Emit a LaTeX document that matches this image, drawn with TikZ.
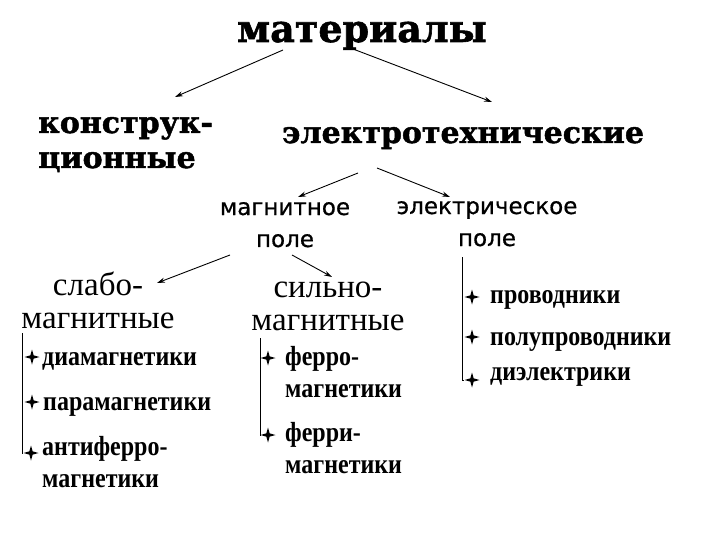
\documentclass[tikz,border=0pt]{standalone}
\usepackage{fontspec}
\usepackage{tikz}
\usetikzlibrary{arrows.meta,positioning,shapes.geometric}
\newfontfamily\slabfont{DejaVu Serif}[BoldFeatures={FakeBold=1.5}]
\newfontfamily\romanfont{Liberation Serif}
\newfontfamily\roundfont{DejaVu Sans}[FakeBold=0.6]
\definecolor{ink}{HTML}{000000}
\tikzset{
  head/.style={font=\slabfont\bfseries\fontsize{38}{40}\selectfont, inner sep=0pt, anchor=base},
  sub/.style={font=\slabfont\bfseries\fontsize{30}{35}\selectfont, inner sep=0pt, align=left, anchor=base west},
  fld/.style={font=\roundfont\fontsize{23}{32}\selectfont, inner sep=0pt, align=center, anchor=base},
  grp/.style={font=\romanfont\fontsize{33}{33}\selectfont, inner sep=0pt, align=center, anchor=base},
  item/.style={font=\romanfont\bfseries\fontsize{24}{27}\selectfont, yscale=1.15, inner sep=0pt, align=left, anchor=base west},
  bul/.style={star, star points=4, star point ratio=3.2, fill=ink, draw=none, minimum size=15pt, inner sep=0pt},
  ar/.style={-{Stealth[length=8pt,width=5pt]}, line width=.9pt, draw=ink},
  rail/.style={line width=.8pt, draw=ink},
}
\begin{document}
\begin{tikzpicture}[x=1pt,y=-1pt]
  \useasboundingbox (0,0) rectangle (720,540);
  % top levels
  \node[head] (mat) at (362,42) {материалы};
  \node[sub] (konstr) at (38,168) {конструк-\\ционные};
  \node[sub] (elek) at (282,143) {электротехнические};
  \node[fld] (magn) at (285,247) {магнитное\\поле};
  \node[fld] (elpole) at (487,246) {электрическое\\поле};
  \node[grp] (slabo) at (98,328) {слабо-\\магнитные};
  \node[grp] (silno) at (328,330) {сильно-\\магнитные};
  % arrow ends
  \coordinate (matL) at (283,50);   \coordinate (konT) at (175,97);
  \coordinate (matR) at (353,49);   \coordinate (elekT) at (492,102);
  \coordinate (elekL) at (358,173); \coordinate (magnT) at (298,197);
  \coordinate (elekR) at (377,168); \coordinate (elpT) at (450,197);
  \coordinate (magnL) at (230,255); \coordinate (slaboT) at (157,283);
  \coordinate (magnR) at (292,255); \coordinate (silnoT) at (332,277);
  \draw[ar] (matL) -- (konT);
  \draw[ar] (matR) -- (elekT);
  \draw[ar] (elekL) -- (magnT);
  \draw[ar] (elekR) -- (elpT);
  \draw[ar] (magnL) -- (slaboT);
  \draw[ar] (magnR) -- (silnoT);
  % weak magnetic
  \coordinate (railA) at (22,333);
  \node[bul] (bA1) at (32,357) {};
  \node[bul] (bA2) at (32,402) {};
  \node[bul] (bA3) at (31,453) {};
  \node[item] (dia) at (42,365) {диамагнетики};
  \node[item] (para) at (43,410) {парамагнетики};
  \node[item] (anti) at (42,487) {антиферро-\\магнетики};
  \draw[rail] (railA) |- (bA3.west);
  % strong magnetic
  \coordinate (railB) at (260,338);
  \node[bul] (bB1) at (268,358) {};
  \node[bul] (bB2) at (268,435) {};
  \node[item] (ferro) at (285,397) {ферро-\\магнетики};
  \node[item] (ferri) at (285,473) {ферри-\\магнетики};
  \draw[rail] (railB) |- (bB2.west);
  % electric field
  \coordinate (railC) at (462,257);
  \node[bul] (bC1) at (472,297) {};
  \node[bul] (bC2) at (472,337) {};
  \node[bul] (bC3) at (472,380) {};
  \node[item] (prov) at (490,303) {проводники};
  \node[item] (polu) at (490,345) {полупроводники};
  \node[item] (diel) at (490,380) {диэлектрики};
  \draw[rail] (railC) |- (bC3.west);
\end{tikzpicture}
\end{document}
